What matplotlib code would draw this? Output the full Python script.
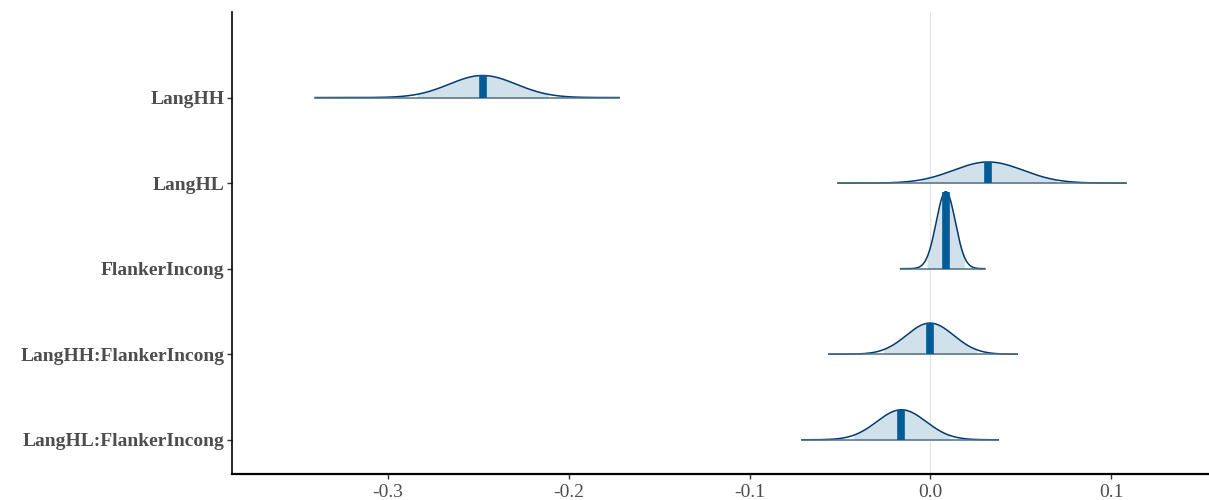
import numpy as np
import matplotlib.pyplot as plt

# posterior summaries
params = ['LangHH', 'LangHL', 'FlankerIncong', 'LangHH:FlankerIncong', 'LangHL:FlankerIncong']
post_mean = [-0.2475, 0.032, 0.0085, -0.0002, -0.0160]
post_sd = [0.0185, 0.0193, 0.0053, 0.0131, 0.0136]
post_lo = [-0.340, -0.051, -0.0165, -0.056, -0.071]
post_hi = [-0.172, 0.108, 0.030, 0.048, 0.0375]

light = '#d1e1ec'
dark = '#03396c'
mid_hl = '#005b96'

plt.rcParams['font.family'] = ['Liberation Serif', 'DejaVu Serif']

fig = plt.figure(figsize=(12.09, 5.0), dpi=100)
ax = fig.add_axes([0.192, 0.052, 0.808, 0.924])

ax.axvline(0, color='#e3e3e3', lw=0.8, zorder=0)

ypos = np.arange(len(params), 0, -1)
peak_max = max(1 / s for s in post_sd)
scale = 0.9 / peak_max

for y, m, s, lo, hi in zip(ypos, post_mean, post_sd, post_lo, post_hi):
    def dens(x):
        return scale * np.exp(-0.5 * ((x - m) / s) ** 2) / s
    xs = np.linspace(lo, hi, 400)
    # inner 95% interval
    xi = np.linspace(m - 1.96 * s, m + 1.96 * s, 300)
    ax.fill_between(xi, y, y + dens(xi), color=light, lw=0, zorder=2)
    ax.plot(xs, y + dens(xs), color=dark, lw=1.1, zorder=3)
    ax.plot([lo, hi], [y, y], color='#4f6f89', lw=1.1, zorder=3)
    ax.vlines(m, y, y + dens(m), color=mid_hl, lw=5.5, zorder=4)

ax.set_xlim(-0.386, 0.154)
ax.set_ylim(0.6, 6.0)
ax.set_yticks(ypos)
ax.set_yticklabels(params, fontweight='bold', fontsize=14, color='#4d4d4d')
ax.set_xticks([-0.3, -0.2, -0.1, 0.0, 0.1])
ax.set_xticklabels(['-0.3', '-0.2', '-0.1', '0.0', '0.1'], fontsize=14, color='#4d4d4d')
ax.tick_params(axis='both', length=3.5, width=1, color='#333333')
ax.tick_params(axis='y', pad=2)

for side in ['top', 'right']:
    ax.spines[side].set_visible(False)
ax.spines['left'].set_linewidth(1.2)
ax.spines['bottom'].set_linewidth(1.6)

fig.savefig('out.png', dpi=100)
